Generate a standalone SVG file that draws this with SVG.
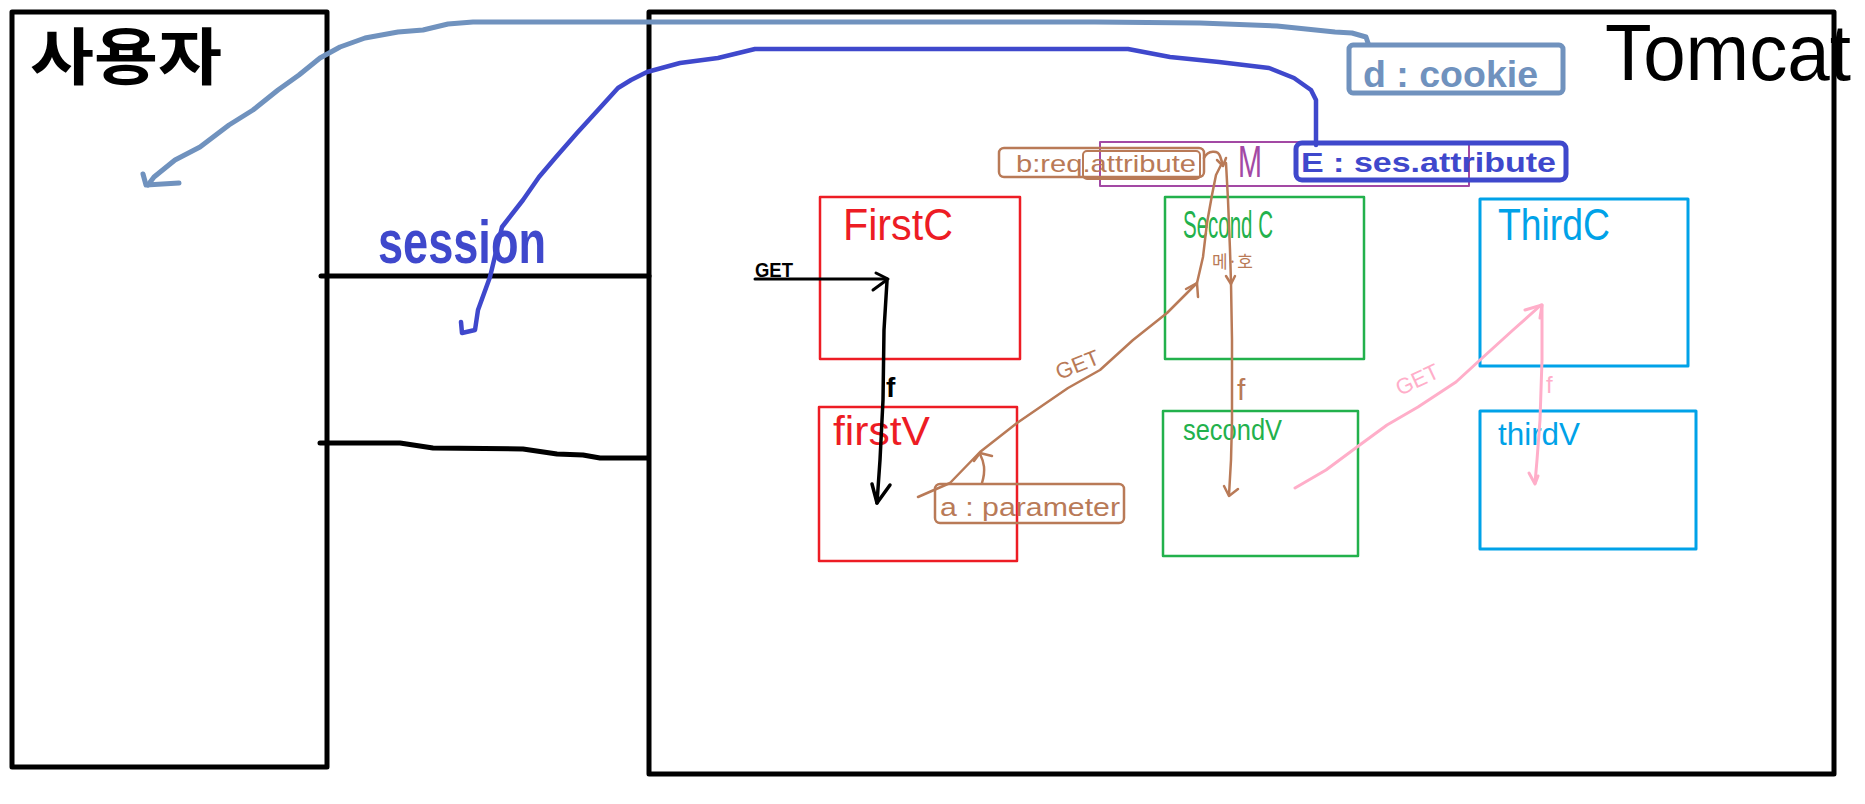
<svg xmlns="http://www.w3.org/2000/svg" width="1865" height="804" viewBox="0 0 1865 804">
<style>
text { font-family: "Liberation Sans", Arial, sans-serif; }
.kr { font-family: "Noto Sans CJK KR", "Liberation Sans", sans-serif; }
.bx { fill: none; stroke-linejoin: round; }
.ln { fill: none; stroke-linecap: round; stroke-linejoin: round; }
.blk { stroke: #000; }
.red { stroke: #ed1c24; }
.grn { stroke: #22b14c; }
.cyn { stroke: #00a2e8; }
.brn { stroke: #b97a57; }
.pnk { stroke: #ffaec9; }
.dbl { stroke: #3f48cc; }
.sbl { stroke: #7092be; }
.prp { stroke: #a349a4; }
</style>
<rect width="1865" height="804" fill="#fff"/>

<g id="user">
  <rect class="bx blk" x="12" y="12" width="315" height="755" stroke-width="5"/>
  <text class="kr" x="30" y="80" font-size="62" font-weight="bold" textLength="192" lengthAdjust="spacingAndGlyphs">사용자</text>
</g>

<g id="tomcat">
  <rect class="bx blk" x="649" y="12" width="1185" height="762" stroke-width="5"/>
  <text x="1605" y="80" font-size="80" textLength="246" lengthAdjust="spacingAndGlyphs">Tomcat</text>
</g>

<g id="firstC">
  <rect class="bx red" x="820" y="197" width="200" height="162" stroke-width="2.5"/>
  <text x="843" y="240" font-size="44" fill="#ed1c24" textLength="110" lengthAdjust="spacingAndGlyphs">FirstC</text>
</g>
<g id="secondC">
  <rect class="bx grn" x="1165" y="197" width="199" height="162" stroke-width="2.5"/>
  <text x="1183" y="238" font-size="38" fill="#22b14c" textLength="90" lengthAdjust="spacingAndGlyphs">Second C</text>
</g>
<g id="thirdC">
  <rect class="bx cyn" x="1480" y="199" width="208" height="167" stroke-width="3"/>
  <text x="1498" y="240" font-size="44" fill="#00a2e8" textLength="112" lengthAdjust="spacingAndGlyphs">ThirdC</text>
</g>
<g id="firstV">
  <rect class="bx red" x="819" y="407" width="198" height="154" stroke-width="2.5"/>
  <text x="833" y="445" font-size="40" fill="#ed1c24" textLength="97" lengthAdjust="spacingAndGlyphs">firstV</text>
</g>
<g id="secondV">
  <rect class="bx grn" x="1163" y="411" width="195" height="145" stroke-width="2.5"/>
  <text x="1183" y="440" font-size="30" fill="#22b14c" textLength="99" lengthAdjust="spacingAndGlyphs">secondV</text>
</g>
<g id="thirdV">
  <rect class="bx cyn" x="1480" y="411" width="216" height="138" stroke-width="3"/>
  <text x="1498" y="445" font-size="32" fill="#00a2e8" textLength="82" lengthAdjust="spacingAndGlyphs">thirdV</text>
</g>

<g id="model">
  <rect class="bx prp" x="1100" y="142" width="369" height="44" stroke-width="2"/>
  <text x="1238" y="177" font-size="44" fill="#a349a4" textLength="24" lengthAdjust="spacingAndGlyphs">M</text>
</g>
<g id="reqAttribute">
  <rect class="bx brn" x="999" y="148" width="205" height="29" rx="5" stroke-width="2.5"/>
  <rect class="bx brn" x="1083" y="151" width="117" height="28" rx="4" stroke-width="2"/>
  <text x="1016" y="172" font-size="24" fill="#b97a57" textLength="180" lengthAdjust="spacingAndGlyphs">b:req.attribute</text>
</g>
<g id="sesAttribute">
  <rect class="bx dbl" x="1296" y="143" width="270" height="37" rx="6" stroke-width="5"/>
  <text x="1301" y="172" font-size="28" font-weight="bold" fill="#3f48cc" textLength="255" lengthAdjust="spacingAndGlyphs">E : ses.attribute</text>
</g>
<g id="cookie">
  <rect class="bx sbl" x="1349" y="45" width="214" height="48" rx="4" stroke-width="5"/>
  <text x="1363" y="87" font-size="36" font-weight="bold" fill="#7092be" textLength="175" lengthAdjust="spacingAndGlyphs">d : cookie</text>
</g>
<g id="parameter">
  <rect class="bx brn" x="935" y="484" width="189" height="39" rx="5" stroke-width="2.5"/>
  <text x="940" y="516" font-size="26" fill="#b97a57" textLength="180" lengthAdjust="spacingAndGlyphs">a : parameter</text>
</g>

<g id="connectors">
  <!-- user <-> tomcat lines -->
  <path class="ln blk" stroke-width="5" d="M321,276 L649,276"/>
  <path class="ln blk" stroke-width="5" d="M320,443 L400,443 L433,448 L523,449 L557,454 L583,455 L600,458 L648,458"/>
  <text x="378" y="263" font-size="62" font-weight="bold" fill="#3f48cc" textLength="168" lengthAdjust="spacingAndGlyphs">session</text>

  <!-- cookie line -->
  <path class="ln sbl" stroke-width="5" d="M1368,43 L1366,37 L1352,33 L1335,32 L1277,26 L1200,23 L1095,22 L473,22 L448,24 L423,30 L398,32 L365,38 L340,47 L320,58 L299,75 L278,90 L253,110 L229,125 L200,147 L175,160 L154,177 L148,185"/>
  <path class="ln sbl" stroke-width="5" d="M143,174 L146,185 L179,183"/>

  <!-- session line -->
  <path class="ln dbl" stroke-width="4.5" d="M1316,145 L1316,100 L1311,90 L1294,78 L1269,68 L1219,62 L1170,57 L1128,49 L755,49 L718,58 L680,63 L647,72 L631,80 L618,88 L598,110 L577,133 L556,157 L539,177 L523,200 L502,227 L490,277 L478,310 L475,330 L462,333 L461,322"/>

  <!-- GET to FirstC -->
  <path class="ln blk" stroke-width="3" d="M755,279 L887,279"/>
  <path class="ln blk" stroke-width="3" d="M876,273 L888,279 L873,290"/>
  <text x="755" y="277" font-size="20" font-weight="bold" textLength="38" lengthAdjust="spacingAndGlyphs">GET</text>

  <!-- FirstC -> firstV -->
  <path class="ln blk" stroke-width="3.5" d="M887,281 L884,330 L883,400 L880,460 L877,503"/>
  <path class="ln blk" stroke-width="3.5" d="M872,484 L877,503 L890,485"/>
  <text x="886" y="397" font-size="28" font-weight="bold">f</text>

  <!-- firstV -> SecondC (GET) -> M -->
  <path class="ln brn" stroke-width="2.5" d="M918,497 L950,483 L980,452 L1017,423 L1068,388 L1100,370 L1133,340 L1167,313 L1187,293 L1197,283 L1203,257 L1207,223 L1212,195 L1216,175 L1222,163"/>
  <path class="ln brn" stroke-width="2.5" d="M1186,289 L1197,283 L1198,297"/>
  <text x="1078" y="372" font-size="22" fill="#b97a57" text-anchor="middle" transform="rotate(-22 1078 366)">GET</text>

  <!-- parameter -> GET line -->
  <path class="ln brn" stroke-width="2.5" d="M982,483 C986,470 984,462 980,454"/>
  <path class="ln brn" stroke-width="2.5" d="M974,461 L980,453 L992,456"/>

  <!-- req attribute -> M -->
  <path class="ln brn" stroke-width="2.5" d="M1204,158 C1208,150 1218,150 1220,156 L1223,165"/>
  <path class="ln brn" stroke-width="2.5" d="M1217,160 L1223,166 L1226,158"/>

  <!-- SecondC -> secondV (f) -->
  <path class="ln brn" stroke-width="2.5" d="M1226,163 L1228,200 L1230,250 L1231,283 L1232,340 L1232,420 L1231,460 L1229,495"/>
  <path class="ln brn" stroke-width="2.5" d="M1226,276 L1231,284 L1235,276"/>
  <path class="ln brn" stroke-width="2.5" d="M1224,486 L1229,496 L1238,489"/>
  <text x="1237" y="400" font-size="30" fill="#b97a57">f</text>
  <text class="kr" x="1212" y="268" font-size="17" fill="#b97a57">메·호</text>

  <!-- secondV -> ThirdC (GET) -->
  <path class="ln pnk" stroke-width="3" d="M1295,488 L1326,470 L1357,447 L1387,425 L1418,407 L1456,382 L1480,360 L1513,330 L1541,305"/>
  <path class="ln pnk" stroke-width="3" d="M1525,310 L1542,305 L1540,318"/>
  <text x="1418" y="387" font-size="22" fill="#ffaec9" text-anchor="middle" transform="rotate(-25 1418 381)">GET</text>

  <!-- ThirdC -> thirdV (f) -->
  <path class="ln pnk" stroke-width="3" d="M1542,305 L1542,360 L1540,420 L1537,460 L1535,483"/>
  <path class="ln pnk" stroke-width="3" d="M1529,473 L1535,484 L1538,476"/>
  <text x="1546" y="393" font-size="24" fill="#ffaec9">f</text>
</g>
</svg>
